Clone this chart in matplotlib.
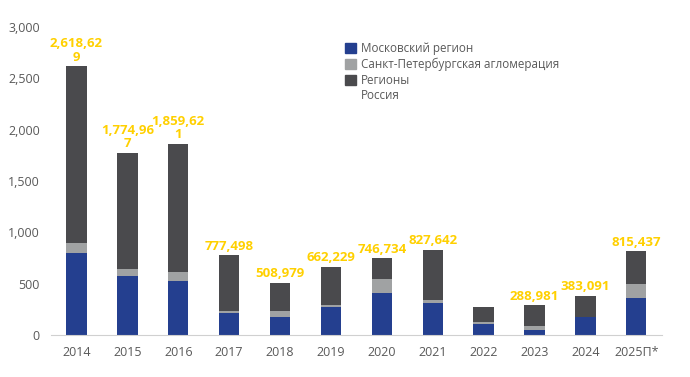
import matplotlib
matplotlib.use("Agg")
import matplotlib.pyplot as plt
from matplotlib.patches import Patch

plt.rcParams['font.family'] = ['Open Sans', 'DejaVu Sans']

years = ["2014", "2015", "2016", "2017", "2018", "2019", "2020", "2021", "2022", "2023", "2024", "2025П*"]
moscow = [800, 577, 529, 217, 178, 270, 412, 314, 110, 49, 178, 363]
spb = [100, 66, 87, 17, 55, 22, 131, 24, 17, 42, 3, 140]
regions = [1718.629, 1131.967, 1243.621, 543.498, 275.979, 370.229, 203.734, 489.642, 146, 197.981, 202.091, 312.437]
total_labels = ["2,618,62\n9", "1,774,96\n7", "1,859,62\n1", "777,498", "508,979", "662,229",
                "746,734", "827,642", None, "288,981", "383,091", "815,437"]

c_msk = "#243F8F"
c_spb = "#A0A2A3"
c_reg = "#4A4A4D"
c_lbl = "#FFD000"
c_txt = "#595959"

fig = plt.figure(figsize=(6.9, 3.77), dpi=100)
ax = fig.add_axes([0.074, 0.111, 0.885, 0.817])

x = list(range(len(years)))
w = 0.4
ax.bar(x, moscow, w, color=c_msk)
ax.bar(x, spb, w, bottom=moscow, color=c_spb)
bot2 = [m + s for m, s in zip(moscow, spb)]
ax.bar(x, regions, w, bottom=bot2, color=c_reg)

for i, lbl in enumerate(total_labels):
    if lbl is None:
        continue
    top = bot2[i] + regions[i]
    ax.annotate(lbl, (i, top), xytext=(0, 2), textcoords="offset points",
                ha="center", va="bottom", color=c_lbl, fontsize=9.5,
                fontweight="bold", linespacing=1.05)

ax.set_xlim(-0.5, 11.5)
ax.set_ylim(0, 3000)
ax.set_yticks([0, 500, 1000, 1500, 2000, 2500, 3000])
ax.set_yticklabels(["0", "500", "1,000", "1,500", "2,000", "2,500", "3,000"])
ax.set_xticks(x)
ax.set_xticklabels(years)
ax.tick_params(axis="both", length=0, labelsize=9, colors=c_txt)
ax.tick_params(axis="y", pad=8)
ax.tick_params(axis="x", pad=8)
for s in ["left", "right", "top"]:
    ax.spines[s].set_visible(False)
ax.spines["bottom"].set_color("#D0D0D0")

handles = [Patch(color=c_msk, label="Московский регион"),
           Patch(color=c_spb, label="Санкт-Петербургская агломерация"),
           Patch(color=c_reg, label="Регионы"),
           Patch(color="none", label="Россия")]
leg = ax.legend(handles=handles, loc="upper left", bbox_to_anchor=(0.474, 0.966),
                frameon=False, fontsize=8.4, handlelength=0.9, handleheight=0.9,
                handletextpad=0.45, labelspacing=0.22, borderaxespad=0)
for t in leg.get_texts():
    t.set_color(c_txt)

fig.savefig("out.png", dpi=100)
